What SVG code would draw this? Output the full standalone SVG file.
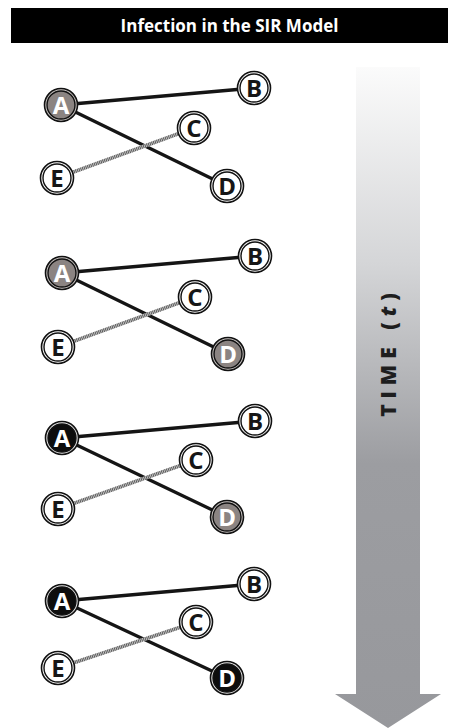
<svg xmlns="http://www.w3.org/2000/svg" width="459" height="728" viewBox="0 0 459 728">
<style>
.title{font-family:"Open Sans","Liberation Sans",sans-serif;font-weight:700;font-size:17px;fill:#fff}
.lbl{font-family:"Open Sans","Liberation Sans",sans-serif;font-weight:700;font-size:24px;text-anchor:middle}
.o{stroke:#111;stroke-width:1.6}
.n{stroke:#111;stroke-width:1.4}
.edge{stroke:#151515;stroke-width:3.3;stroke-linecap:round}
.weakbase{stroke:#c4c4c4;stroke-width:3.6}
.weakhatch{stroke:#4a4a4a;stroke-width:3.6;stroke-dasharray:0.8 1}
.i .o{fill:#c9c4c2}.i .n{fill:#8b8482}
.r .o{fill:#e8e8e8}.r .n{fill:#0d0d0d}
.w .o,.w .n{fill:#fff}
.w text{fill:#161616}
.i text,.r text{fill:#fff}
.time{font-family:"Open Sans","Liberation Sans",sans-serif;font-weight:800;font-size:21px;fill:#1e1e1e;letter-spacing:6px}
</style>
<defs>
<linearGradient id="tg" x1="0" y1="67" x2="0" y2="728" gradientUnits="userSpaceOnUse">
<stop offset="0" stop-color="#fbfbfb"/>
<stop offset="0.3" stop-color="#d4d5d7"/>
<stop offset="0.6" stop-color="#9c9da1"/>
<stop offset="1" stop-color="#97989c"/>
</linearGradient>
</defs>
<rect x="11" y="8" width="437" height="35" fill="#000"/>
<text class="title" x="229.5" y="32" text-anchor="middle">Infection in the SIR Model</text>

<g id="time-arrow">
<path d="M356 67 H420 V694 H441 L388 728 L335 694 H356 Z" fill="url(#tg)"/>
<text class="time" transform="translate(396 352) rotate(-90)" text-anchor="middle">TIME (<tspan font-style="italic">t</tspan>)</text>
</g>

<g id="connectors">
<line class="edge" x1="61" y1="105" x2="254" y2="88"/>
<line class="edge" x1="61" y1="105" x2="227" y2="186"/>
<line class="weakbase" x1="57" y1="178" x2="194" y2="128"/>
<line class="weakhatch" x1="57" y1="178" x2="194" y2="128"/>

<line class="edge" x1="62" y1="273" x2="255" y2="256"/>
<line class="edge" x1="62" y1="273" x2="228" y2="354"/>
<line class="weakbase" x1="58" y1="347" x2="195" y2="297"/>
<line class="weakhatch" x1="58" y1="347" x2="195" y2="297"/>

<line class="edge" x1="62" y1="438" x2="255" y2="421"/>
<line class="edge" x1="62" y1="438" x2="227" y2="517"/>
<line class="weakbase" x1="58" y1="509" x2="196" y2="460"/>
<line class="weakhatch" x1="58" y1="509" x2="196" y2="460"/>

<line class="edge" x1="62" y1="601" x2="254" y2="584"/>
<line class="edge" x1="62" y1="601" x2="227" y2="678"/>
<line class="weakbase" x1="58" y1="668" x2="196" y2="622"/>
<line class="weakhatch" x1="58" y1="668" x2="196" y2="622"/>
</g>

<g id="p1-A" class="i" transform="translate(61 105)"><circle class="o" r="16.5"/><circle class="n" r="14"/><text class="lbl" y="8.5">A</text></g>
<g id="p1-B" class="w" transform="translate(254 88)"><circle class="o" r="16.5"/><circle class="n" r="14"/><text class="lbl" y="8.5">B</text></g>
<g id="p1-C" class="w" transform="translate(194 128)"><circle class="o" r="16.5"/><circle class="n" r="14"/><text class="lbl" y="8.5">C</text></g>
<g id="p1-D" class="w" transform="translate(227 186)"><circle class="o" r="16.5"/><circle class="n" r="14"/><text class="lbl" y="8.5">D</text></g>
<g id="p1-E" class="w" transform="translate(57 178)"><circle class="o" r="16.5"/><circle class="n" r="14"/><text class="lbl" y="8.5">E</text></g>

<g id="p2-A" class="i" transform="translate(62 273)"><circle class="o" r="16.5"/><circle class="n" r="14"/><text class="lbl" y="8.5">A</text></g>
<g id="p2-B" class="w" transform="translate(255 256)"><circle class="o" r="16.5"/><circle class="n" r="14"/><text class="lbl" y="8.5">B</text></g>
<g id="p2-C" class="w" transform="translate(195 297)"><circle class="o" r="16.5"/><circle class="n" r="14"/><text class="lbl" y="8.5">C</text></g>
<g id="p2-D" class="i" transform="translate(228 354)"><circle class="o" r="16.5"/><circle class="n" r="14"/><text class="lbl" y="8.5">D</text></g>
<g id="p2-E" class="w" transform="translate(58 347)"><circle class="o" r="16.5"/><circle class="n" r="14"/><text class="lbl" y="8.5">E</text></g>

<g id="p3-A" class="r" transform="translate(62 438)"><circle class="o" r="16.5"/><circle class="n" r="14"/><text class="lbl" y="8.5">A</text></g>
<g id="p3-B" class="w" transform="translate(255 421)"><circle class="o" r="16.5"/><circle class="n" r="14"/><text class="lbl" y="8.5">B</text></g>
<g id="p3-C" class="w" transform="translate(196 460)"><circle class="o" r="16.5"/><circle class="n" r="14"/><text class="lbl" y="8.5">C</text></g>
<g id="p3-D" class="i" transform="translate(227 517)"><circle class="o" r="16.5"/><circle class="n" r="14"/><text class="lbl" y="8.5">D</text></g>
<g id="p3-E" class="w" transform="translate(58 509)"><circle class="o" r="16.5"/><circle class="n" r="14"/><text class="lbl" y="8.5">E</text></g>

<g id="p4-A" class="r" transform="translate(62 601)"><circle class="o" r="16.5"/><circle class="n" r="14"/><text class="lbl" y="8.5">A</text></g>
<g id="p4-B" class="w" transform="translate(254 584)"><circle class="o" r="16.5"/><circle class="n" r="14"/><text class="lbl" y="8.5">B</text></g>
<g id="p4-C" class="w" transform="translate(196 622)"><circle class="o" r="16.5"/><circle class="n" r="14"/><text class="lbl" y="8.5">C</text></g>
<g id="p4-D" class="r" transform="translate(227 678)"><circle class="o" r="16.5"/><circle class="n" r="14"/><text class="lbl" y="8.5">D</text></g>
<g id="p4-E" class="w" transform="translate(58 668)"><circle class="o" r="16.5"/><circle class="n" r="14"/><text class="lbl" y="8.5">E</text></g>
</svg>
